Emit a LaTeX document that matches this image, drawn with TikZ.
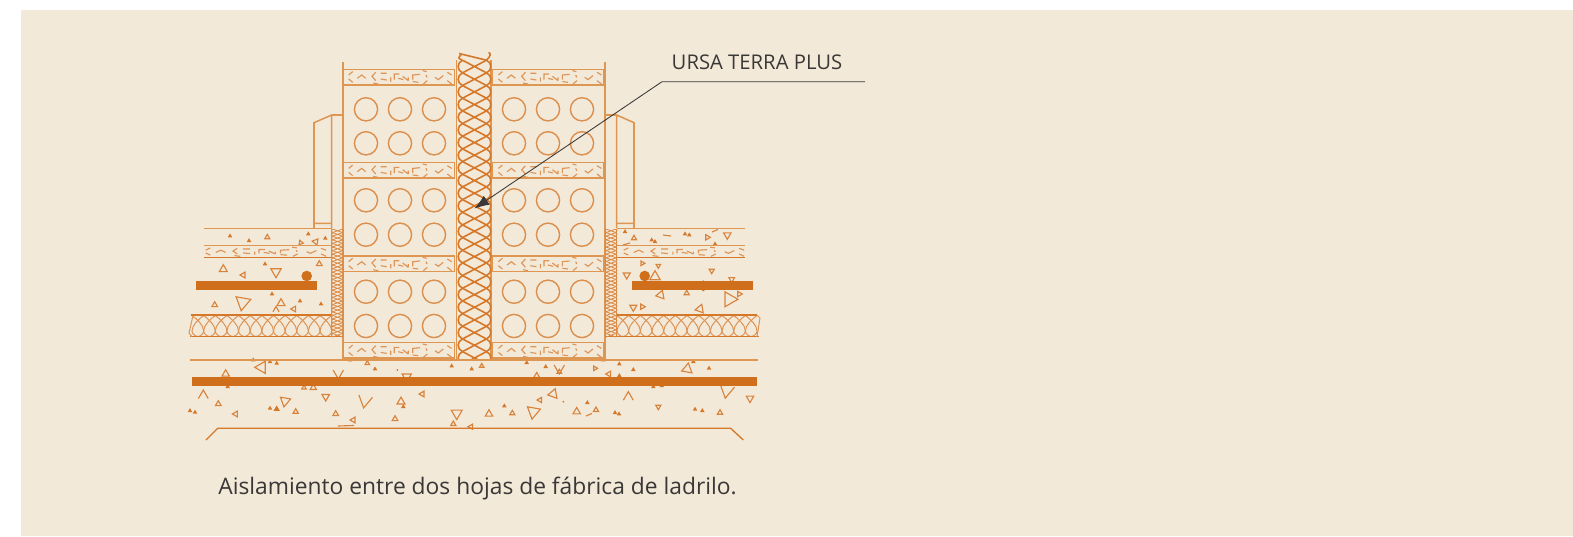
\documentclass[tikz,border=0pt]{standalone}
\usepackage{fontspec}
\setmainfont{Open Sans}
\usetikzlibrary{calc,arrows.meta}
\definecolor{panelbg}{HTML}{F3E9D9}
\definecolor{brickline}{HTML}{DE9653}
\definecolor{woolline}{HTML}{D5782A}
\definecolor{barfill}{HTML}{CF6F1B}
\definecolor{leaderink}{HTML}{3A3836}
\tikzset{
  wallline/.style={draw=brickline, line width=1.15pt},
  ringline/.style={draw=woolline!80!panelbg, line width=1.05pt},
  hatchdash/.style={draw=woolline!75!panelbg, line width=0.85pt},
  gritline/.style={draw=woolline!90!panelbg, line width=0.85pt},
  gritdot/.style={fill=woolline, draw=none},
  coilline/.style={draw=woolline, line width=1.2pt},
  finecoil/.style={draw=woolline!85!panelbg, line width=0.6pt},
  woolthin/.style={draw=woolline!75!panelbg, line width=0.75pt},
  steelbar/.style={fill=barfill, draw=none},
  leaderline/.style={draw=leaderink, line width=0.65pt, -{Latex[length=11pt,width=8pt]}},
  labeltext/.style={text=leaderink, inner sep=0pt},
  bandhatch/.pic={
    \draw[hatchdash] (9.7,2.3) -- (5.7,5.7) (5.7,9.7) -- (9.7,13)
      (14.3,9) -- (18.7,5.7) -- (22.7,9)
      (32.7,3) -- (29,7) -- (32.7,11.3) (30.3,13.7) -- (35.3,14.7)
      (37.7,4) -- (43.7,4) (37.7,9.7) -- (43.7,10.7)
      (47.7,8) -- (47.7,12.3) (51.3,10.3) -- (51.3,4.7) -- (56.3,4.7)
      (55.3,9) -- (60.3,10.3) (59.7,7) -- (65.3,11.3) (65.3,8) -- (65.3,11.3)
      (69.7,10.3) -- (69.7,5.7) -- (77,5) (69.7,12.3) -- (75.3,13)
      (79.7,1.3) -- (83.7,2.3) (83,5.7) -- (84,8) (80.3,14.7) -- (84.3,11.3)
      (92,8) -- (95.3,10.3) -- (100.3,6.3)
      (104.3,3) -- (108.7,5.7) (104.3,11.3) -- (108.7,14.7);
  }
}
% vertical coil: left cusp, right cusp, top, bottom, step, bulge, style
\newcommand{\coilstrip}[7]{%
  \begin{scope}
    \clip (#1-8,#3) rectangle (#2+8,#4);
    \pgfmathtruncatemacro{\coiln}{ceil((#4-#3)/#5)-1}
    \foreach \k in {0,...,\coiln} {
      \pgfmathsetmacro{\coilya}{#3+\k*#5}
      \pgfmathsetmacro{\coilyb}{\coilya+#5}
      \draw[#7] (#1,\coilya) -- (#2,\coilyb) (#2,\coilya) -- (#1,\coilyb)
        (#1,\coilya) .. controls (#1-#6,\coilya+0.2*#5) and (#1-#6,\coilyb-0.2*#5) .. (#1,\coilyb)
        (#2,\coilya) .. controls (#2+#6,\coilya+0.2*#5) and (#2+#6,\coilyb-0.2*#5) .. (#2,\coilyb);
    }
  \end{scope}
}
% flat wool layer: left end, cell width
\newcommand{\woolrun}[2]{%
  \foreach \k in {1,...,12} {
    \pgfmathsetmacro{\woolx}{#1+(\k-0.5)*#2}
    \draw[woolthin] (\woolx-0.5*#2,315.5) .. controls (\woolx-1,319) and (\woolx+0.5*#2,325) .. (\woolx+0.5*#2,331)
      .. controls (\woolx+0.5*#2,334) and (\woolx+2,336.5) .. (\woolx,336.5);
    \draw[woolthin] (\woolx+0.5*#2,315.5) .. controls (\woolx+1,319) and (\woolx-0.5*#2,325) .. (\woolx-0.5*#2,331)
      .. controls (\woolx-0.5*#2,334) and (\woolx-2,336.5) .. (\woolx,336.5);
  }
}
\begin{document}
\begin{tikzpicture}[x=0.75pt, y=-0.75pt]
    \useasboundingbox (0,0) rectangle (1573,536);
    \fill[panelbg] (21,10) rectangle (1573,536);
    %
    % grit in the screed, open triangles
    \foreach \gx/\gy/\gr/\grot in {267.3/237.3/2.9/0, 300.7/242.7/2.6/20, 315.7/241.7/3.6/200,
      223.3/269.3/4.6/0, 243.3/275/3.3/90, 276/271.7/6/180, 319.3/264/3.3/0,
      242.7/302.3/8.6/170, 281/303.3/4.6/0, 214.7/305/3.3/0, 294/309/3.3/90,
      367.3/363.3/2.6/0, 481.7/366/2.6/0, 261.7/367.3/7/-30, 225.7/374/4.3/0, 406.7/376.7/5.3/180,
      304/387.7/2.6/0, 313.3/387.7/3.6/0, 218.3/404/3.3/0, 285/401/6/170, 325.7/396.7/4.3/180,
      401/401.7/4.6/0, 422.3/394/3.3/90, 295.7/411.7/3/0, 235.7/414/3.3/90, 335.7/414/3.3/0,
      353.3/420/3.3/90, 395/419/3.3/0, 456.7/413.3/6.3/180, 489/414/4.3/0, 453.3/424/3/0, 471/426.7/3/90,
      634/238.3/3/0, 707.3/237.3/3/-90, 727.3/235/4.3/180, 642.3/263.3/2.6/-90, 658.3/265.7/2.6/180,
      626.7/275/4/180, 655/276.7/6/0, 711.7/270.7/3/180, 731.7/279.3/3.3/180,
      660.7/295/5/-20, 686.7/293.3/3/0, 729.3/299.3/8.6/-90, 739.3/294/3/-90,
      633.3/307.3/4/180, 642.3/306.7/3/-90, 700/309/5/-20,
      595/368.3/2.6/-90, 609/374/3.3/90, 687.3/369/6/-10, 536.7/375.7/3.3/0, 559.3/372/2.7/0,
      750/398.3/4.3/180, 553.3/394/5.6/-20, 540/400/3/90, 533.3/411.7/7.6/170,
      576.7/411.7/4.3/0, 596/410/3/0, 658.3/406.7/3/180, 720/412.7/3/0, 512.3/413.3/3/0}
      \draw[gritline, shift={(\gx,\gy)}, rotate=\grot] (270:\gr) -- (30:\gr) -- (150:\gr) -- cycle;
    % open wedges
    \foreach \gx/\gy/\gr/\grot in {338.3/373/6/180, 365/400/8/170, 203.3/395.7/5.7/0, 628.3/397.3/5.7/0,
      726.7/390/8.3/170, 276/310/3.5/0, 559.3/368/6/180}
      \draw[gritline, shift={(\gx,\gy)}, rotate=\grot] (30:\gr) -- (270:\gr) -- (150:\gr);
    % small solid grit
    \foreach \gx/\gy in {230/236, 249/240.7, 308.3/234, 325.3/238.3, 265/264, 272/294, 300/301, 321/304,
      253.3/360, 270/361.7, 276.7/363.3, 350/360, 375/369, 451.7/366, 471.7/369, 227.7/386.7,
      403.3/406.7, 270/408.3, 190/410.7, 195/412.3,
      625/231.7, 655/241.7, 651.7/240, 685/234, 689.3/235, 715/244,
      526.7/362.7, 545.7/366.7, 619.3/364, 633.3/369.7, 603.3/360, 693.3/361.7, 709/368.3,
      619.3/375.7, 653.3/386.7, 661.7/385.7, 587.3/402.7, 615/412.7, 619/414, 695/409.3, 702.3/410.7, 504.3/406}
      \fill[gritdot, shift={(\gx,\gy)}] (270:2.6) -- (30:2.6) -- (150:2.6) -- cycle;
    \fill[gritdot, shift={(276.7,409)}] (270:3.6) -- (30:3.6) -- (150:3.6) -- cycle;
    \foreach \gx/\gy in {397.3/370, 563.3/401.7}
      \fill[gritdot] (\gx,\gy) circle (1);
    \draw[gritline] (338,426) -- (354,425.5) (663,235) -- (671,236) (712,232) -- (718,229.5)
      (623,245) -- (630,243) (586,416) -- (592,413.5);
    %
    % brick bands
    \foreach \bandy in {69.3,162.7,256,342.7} {
      \draw[wallline] (343,\bandy) rectangle (454.7,\bandy+15.5);
      \draw[wallline] (492.7,\bandy) rectangle (604,\bandy+15.5);
      \pic at (343,\bandy) {bandhatch};
      \pic at (492.7,\bandy) {bandhatch};
    }
    % brick holes
    \foreach \ringy in {109.3,143.3,200.3,234.7,291.7,326}
      \foreach \ringx in {366,400,434,514,548,582}
        \draw[ringline] (\ringx,\ringy) circle (11.6);
    % wall faces
    \draw[wallline] (343,62) -- (343,360) (456.7,60) -- (456.7,360)
      (491,60) -- (491,360) (605,62) -- (605,360);
    % skirting
    \draw[wallline] (343,115) -- (331.7,115) -- (314,122.7) -- (314,228) (331.7,115) -- (331.7,228)
      (314,223.3) -- (331.7,223.3);
    \draw[wallline] (605,115) -- (616.7,115) -- (634,122.7) -- (634,228) (616.7,115) -- (616.7,228)
      (616.7,223.3) -- (634,223.3);
    %
    % floor layers
    \draw[wallline] (204,228.5) -- (331.7,228.5) (204,245.7) -- (331.7,245.7);
    \draw[wallline, draw=woolline] (204,257.3) -- (331.7,257.3) (617,257.3) -- (745,257.3);
    \draw[wallline] (617,228.5) -- (745,228.5) (617,245.7) -- (745,245.7);
    \pic[xscale=1.17, yscale=0.68] at (199,246.3) {bandhatch};
    \pic[xscale=1.17, yscale=0.68] at (617,246.3) {bandhatch};
    \draw[wallline] (190,360) -- (758,360);
    %
    % wool under the screed
    \woolrun{192}{11.64}
    \woolrun{617}{11.67}
    \draw[wallline, draw=woolline] (191,315) -- (331.7,315) (190,336.7) -- (343,336.7)
      (617,315) -- (757,315) (605,336.7) -- (759,336.7);
    \draw[woolthin] (193,315.5) -- (189,333) -- (192,336.7) (757,315) -- (760,318) -- (757,336.7);
    \draw[wallline] (331.7,228.5) -- (331.7,336.7) (616.7,228.5) -- (616.7,336.7);
    % coils
    \coilstrip{332.5}{342.5}{229}{337}{3.6}{1.2}{finecoil}
    \coilstrip{606}{616}{229}{337}{3.6}{1.2}{finecoil}
    \coilstrip{462.5}{486.5}{60.2}{358.5}{12.67}{5.8}{coilline}
    \draw[coilline] (459,53.5) -- (486.5,60.2) (462.5,60.2) .. controls (458,58) .. (461,55)
      (486.5,60.2) .. controls (491,56) and (491,53) .. (488.5,52.5);
    %
    % steel
    \fill[steelbar] (195.7,281.3) rectangle (317,290.3);
    \fill[steelbar] (632,281.3) rectangle (752.7,290.3);
    \fill[steelbar] (191.7,377.3) rectangle (756.7,386);
    \fill[steelbar] (306.7,276) circle (5.3);
    \fill[steelbar] (644.7,276) circle (5.3);
    \fill[steelbar] (703.3,285.8) ellipse (2.8 and 5.5);
    %
    % footing
    \draw[gritline, draw=woolline, line width=1pt] (206,440) -- (217.7,428.3) -- (730.7,428.3) -- (743.3,440);
    %
    \coordinate (leaderend) at (865,81.7);
    \coordinate (leaderbend) at (662,81.7);
    \coordinate (leadertip) at (474.5,208.5);
    \draw[leaderline] (leaderend) -- (leaderbend) -- (leadertip);
    \node[labeltext, font=\fontsize{15.2pt}{18pt}\selectfont] (urlabel) at (757,62) {URSA TERRA PLUS};
    \node[labeltext, font=\fontsize{17.1pt}{20pt}\selectfont] (caption) at (477.5,488.5) {Aislamiento entre dos hojas de fábrica de ladrilo.};
\end{tikzpicture}
\end{document}
